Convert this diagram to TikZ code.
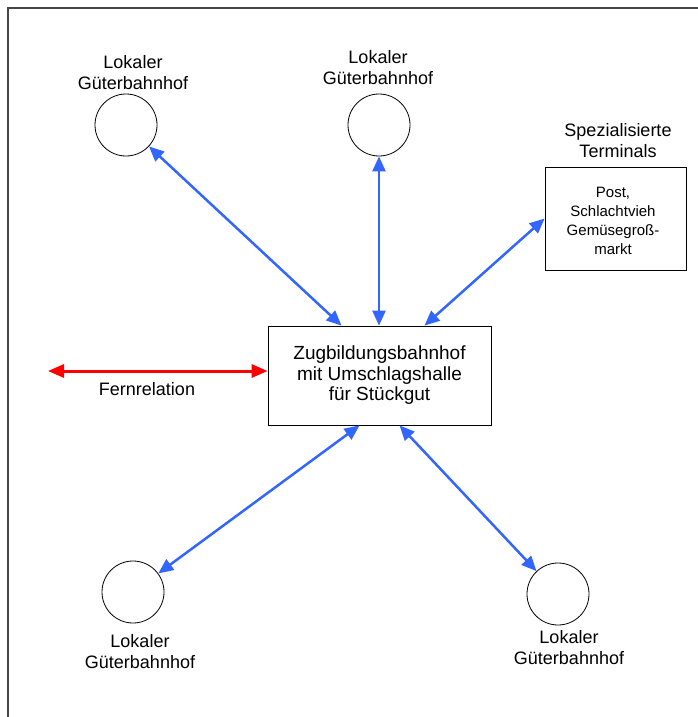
\documentclass[tikz,border=0pt]{standalone}
\usepackage{fontspec}
\setmainfont{Liberation Sans}
\usetikzlibrary{arrows.meta}
\definecolor{pfeilblau}{RGB}{51,102,255}
\definecolor{rahmengrau}{RGB}{70,70,70}
\begin{document}
\begin{tikzpicture}[x=1pt, y=-1pt,
        bahnhof/.style = {draw, circle, thick, minimum size=62pt, inner sep=0pt},
        kasten/.style = {draw, thick, rectangle, inner sep=0pt},
        beschriftung/.style = {align=center, font=\fontsize{18}{21}\selectfont},
        verbindung/.style = {{Triangle[length=15pt,width=13pt]}-{Triangle[length=15pt,width=13pt]}, draw=pfeilblau, line width=2.5pt},
        fern/.style = {{Triangle[length=16pt,width=13pt]}-{Triangle[length=16pt,width=13pt]}, draw=red, line width=3pt}
    ]
            \useasboundingbox (0,0) rectangle (698,717);
            \draw[rahmengrau, line width=2pt] (8,717) -- (8,8) -- (698,8);

            % Zugbildungsbahnhof in der Mitte
            \node[kasten, minimum width=223pt, minimum height=99pt,
                align=center, font=\fontsize{19}{20.5}\selectfont] (zb) at (379.5,375.5)
                {Zugbildungsbahnhof\\mit Umschlagshalle\\für Stückgut};

            % lokale Gueterbahnhoefe
            \node[bahnhof] (lgo) at (126,125) {};
            \node[bahnhof] (lgm) at (379,125) {};
            \node[bahnhof] (lgl) at (133,592) {};
            \node[bahnhof] (lgr) at (558,594) {};
            \node[beschriftung] (tlgo) at (133,73) {Lokaler\\Güterbahnhof};
            \node[beschriftung] (tlgm) at (378,68) {Lokaler\\Güterbahnhof};
            \node[beschriftung] (tlgl) at (140,652) {Lokaler\\Güterbahnhof};
            \node[beschriftung] (tlgr) at (569,648) {Lokaler\\Güterbahnhof};

            % Spezialisierte Terminals
            \node[kasten, minimum width=141pt, minimum height=103pt] (st) at (615.5,218.5) {};
            \node[align=center, font=\fontsize{15}{19}\selectfont] (tst) at (613,221)
                {Post,\\Schlachtvieh\\Gemüsegroß-\\markt};
            \node[beschriftung] (ust) at (618,141) {Spezialisierte\\Terminals};

            % Fernrelation
            \coordinate (fr) at (48,371);
            \draw[fern] (fr) -- (fr -| zb.west);
            \node[font=\fontsize{18}{21}\selectfont] (tfr) at (147,389) {Fernrelation};

            % Verbindungen
            \draw[verbindung] (lgo) -- ([xshift=-38pt]zb.north);
            \draw[verbindung] (lgm) -- (lgm |- zb.north);
            \draw[verbindung] ([xshift=45pt]zb.north) -- (st.west);
            \draw[verbindung] ([xshift=-20pt]zb.south) -- (lgl);
            \draw[verbindung] ([xshift=20pt]zb.south) -- (lgr);
        \end{tikzpicture}
\end{document}
